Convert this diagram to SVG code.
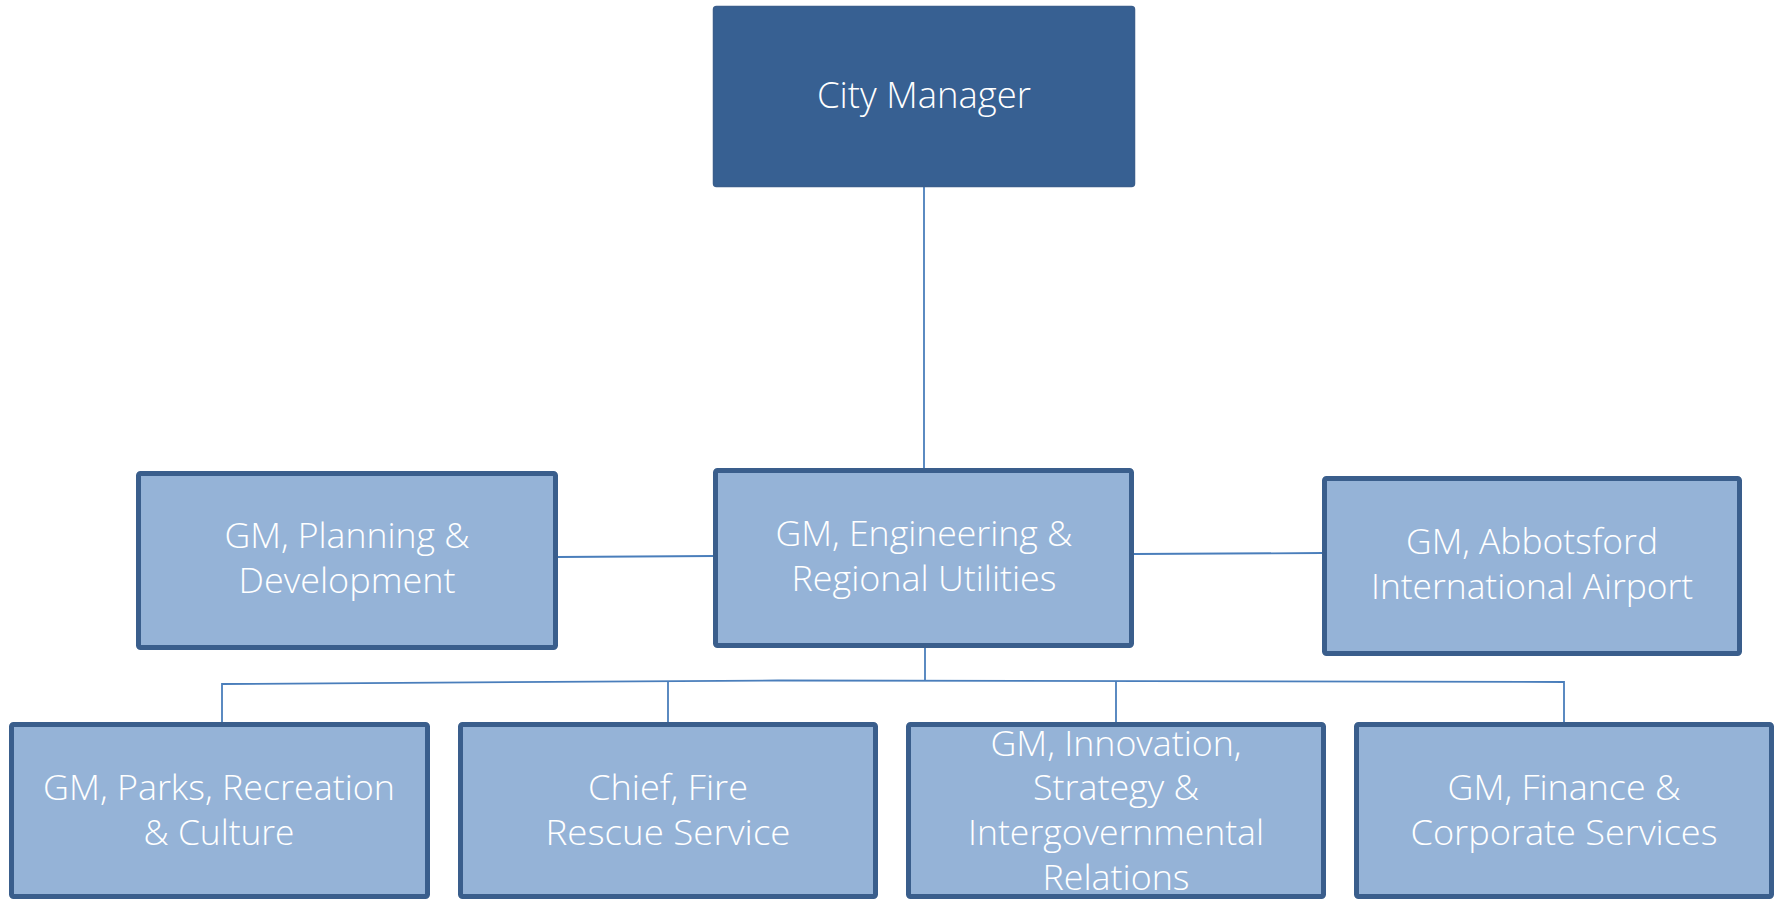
<svg xmlns="http://www.w3.org/2000/svg" width="1779" height="899" viewBox="0 0 1779 899">
<style>
.box{fill:#95b3d7;stroke:#3a5e8c;stroke-width:5}
.top{fill:#376092;stroke:#3a5e8c;stroke-width:1.5}
.lbl{font-family:"Open Sans","Liberation Sans",sans-serif;font-weight:300;font-size:34px;fill:#ffffff;text-anchor:middle}
.big{font-size:37px}
.con{fill:none;stroke:#4a7ebb;stroke-width:1.8}
</style>
<rect x="0" y="0" width="1779" height="899" fill="#ffffff"/>
<g id="connectors">
<line class="con" x1="924" y1="187" x2="924" y2="469"/>
<line class="con" x1="558" y1="557" x2="714" y2="556"/>
<line class="con" x1="1134" y1="554" x2="1323" y2="553"/>
<line class="con" x1="925" y1="647" x2="925" y2="681"/>
<path class="con" d="M222,723 L222,684 L778,680.5 L1564,682 L1564,723"/>
<line class="con" x1="668" y1="681.3" x2="668" y2="723"/>
<line class="con" x1="1116" y1="681" x2="1116" y2="723"/>
</g>
<g id="city-manager">
<rect class="top" x="713.5" y="6.5" width="421" height="180" rx="3"/>
<text class="lbl big" x="924" y="108" textLength="214" lengthAdjust="spacingAndGlyphs">City Manager</text>
</g>
<g id="gm-planning">
<rect class="box" x="138.5" y="473.5" width="417" height="174" rx="2"/>
<text class="lbl" x="347" y="548" textLength="245" lengthAdjust="spacingAndGlyphs">GM, Planning &amp;</text>
<text class="lbl" x="347" y="593" textLength="217" lengthAdjust="spacingAndGlyphs">Development</text>
</g>
<g id="gm-engineering">
<rect class="box" x="715.5" y="470.5" width="416" height="175" rx="2"/>
<text class="lbl" x="924" y="546" textLength="297" lengthAdjust="spacingAndGlyphs">GM, Engineering &amp;</text>
<text class="lbl" x="924" y="591" textLength="265" lengthAdjust="spacingAndGlyphs">Regional Utilities</text>
</g>
<g id="gm-airport">
<rect class="box" x="1324.5" y="478.5" width="415" height="175" rx="2"/>
<text class="lbl" x="1532" y="554" textLength="252" lengthAdjust="spacingAndGlyphs">GM, Abbotsford</text>
<text class="lbl" x="1532" y="599" textLength="322" lengthAdjust="spacingAndGlyphs">International Airport</text>
</g>
<g id="gm-parks">
<rect class="box" x="11.5" y="724.5" width="416" height="172" rx="2"/>
<text class="lbl" x="219" y="800" textLength="352" lengthAdjust="spacingAndGlyphs">GM, Parks, Recreation</text>
<text class="lbl" x="219" y="845" textLength="151" lengthAdjust="spacingAndGlyphs">&amp; Culture</text>
</g>
<g id="chief-fire">
<rect class="box" x="460.5" y="724.5" width="415" height="172" rx="2"/>
<text class="lbl" x="668" y="800" textLength="160" lengthAdjust="spacingAndGlyphs">Chief, Fire</text>
<text class="lbl" x="668" y="845" textLength="245" lengthAdjust="spacingAndGlyphs">Rescue Service</text>
</g>
<g id="gm-innovation">
<rect class="box" x="908.5" y="724.5" width="415" height="172" rx="2"/>
<text class="lbl" x="1116" y="756" textLength="251" lengthAdjust="spacingAndGlyphs">GM, Innovation,</text>
<text class="lbl" x="1116" y="800" textLength="166" lengthAdjust="spacingAndGlyphs">Strategy &amp;</text>
<text class="lbl" x="1116" y="845" textLength="296" lengthAdjust="spacingAndGlyphs">Intergovernmental</text>
<text class="lbl" x="1116" y="890" textLength="147" lengthAdjust="spacingAndGlyphs">Relations</text>
</g>
<g id="gm-finance">
<rect class="box" x="1356.5" y="724.5" width="415" height="172" rx="2"/>
<text class="lbl" x="1564" y="800" textLength="233" lengthAdjust="spacingAndGlyphs">GM, Finance &amp;</text>
<text class="lbl" x="1564" y="845" textLength="307" lengthAdjust="spacingAndGlyphs">Corporate Services</text>
</g>
</svg>
